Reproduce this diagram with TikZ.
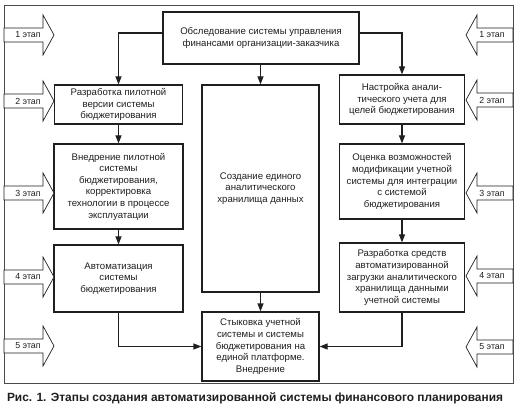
\documentclass[tikz,border=0pt]{standalone}
\usepackage{fontspec}
\setmainfont{Liberation Sans}
\usetikzlibrary{arrows.meta}
\definecolor{ink}{gray}{0.12}
\tikzset{
  box/.style={draw=ink, line width=1.1pt, fill=white, align=center, inner sep=1pt,
    font=\fontsize{9.6}{11.6}\selectfont, text=ink},
  conn/.style={draw=ink, line width=1.1pt, -{Triangle[length=8pt,width=6pt]}},
  stagearrow/.style={draw=ink, line width=0.7pt, fill=white},
  stagelabel/.style={font=\fontsize{8.8}{10}\selectfont, text=ink, inner sep=0pt},
  frame/.style={draw=ink!80, line width=0.8pt}
}
\newcommand{\stageleft}[3]{%
  \draw[stagearrow] (4,#1-7) -- (43,#1-7) -- (43,#1-20) -- (54,#1) -- (43,#1+20) -- (43,#1+7) -- (4,#1+7) -- cycle;
  \node[stagelabel] (#2) at (28,#1) {#3};}
\newcommand{\stageright}[3]{%
  \draw[stagearrow] (513,#1-7) -- (477,#1-7) -- (477,#1-20) -- (466,#1) -- (477,#1+20) -- (477,#1+7) -- (513,#1+7) -- cycle;
  \node[stagelabel] (#2) at (492,#1) {#3};}
\begin{document}
\begin{tikzpicture}[x=1pt,y=-1pt]
\useasboundingbox (0,0) rectangle (520,409);
\draw[frame] (4,5) rectangle (513,383);

\node[box, minimum width=196pt, minimum height=52pt] (top) at (261,38)
  {Обследование системы управления\\финансами организации-заказчика};
\node[box, minimum width=128pt, minimum height=39pt] (L1) at (118.5,104.5)
  {Разработка пилотной\\версии системы\\бюджетирования};
\node[box, minimum width=129pt, minimum height=85pt] (L2) at (118.5,186.5)
  {Внедрение пилотной\\системы\\бюджетирования,\\корректировка\\технологии в процессе\\эксплуатации};
\node[box, minimum width=129pt, minimum height=67pt] (L3) at (118.5,278.5)
  {Автоматизация\\системы\\бюджетирования};
\node[box, minimum width=117pt, minimum height=207pt] (C) at (260.5,188.5)
  {Создание единого\\аналитического\\хранилища данных};
\node[box, minimum width=117pt, minimum height=69pt] (B) at (260.5,346.5)
  {Стыковка учетной\\системы и системы\\бюджетирования на\\единой платформе.\\Внедрение};
\node[box, minimum width=125pt, minimum height=49pt] (R1) at (402,99.5)
  {Настройка анали-\\тического учета для\\целей бюджетирования};
\node[box, minimum width=125pt, minimum height=75pt] (R2) at (402,181.5)
  {Оценка возможностей\\модификации учетной\\системы для интеграции\\с системой\\бюджетирования};
\node[box, minimum width=125pt, minimum height=69pt] (R3) at (402,277.5)
  {Разработка средств\\автоматизированной\\загрузки аналитического\\хранилища данными\\учетной системы};

\draw[conn] ([yshift=5pt]top.west) -| (L1.north);
\draw[conn] ([yshift=5pt]top.east) -| (R1.north);
\draw[conn] (C.north |- top.south) -- (C.north);
\draw[conn] (L1.south) -- (L2.north);
\draw[conn] (L2.south) -- (L3.north);
\draw[conn] (L3.south) |- (B.west);
\draw[conn] (C.south) -- (B.north);
\draw[conn] (R1.south) -- (R2.north);
\draw[conn] (R2.south) -- (R3.north);
\draw[conn] (R3.south) |- (B.east);

\stageleft{35}{sl1}{1 этап}
\stageleft{101}{sl2}{2 этап}
\stageleft{193}{sl3}{3 этап}
\stageleft{277}{sl4}{4 этап}
\stageleft{346}{sl5}{5 этап}
\stageright{35}{sr1}{1 этап}
\stageright{100}{sr2}{2 этап}
\stageright{193}{sr3}{3 этап}
\stageright{276}{sr4}{4 этап}
\stageright{347}{sr5}{5 этап}

\node[font=\bfseries\fontsize{11.9}{14}\selectfont, text=ink, inner sep=0pt] (cap) at (255,398)
  {Рис. 1. Этапы создания автоматизированной системы финансового планирования};
\end{tikzpicture}
\end{document}
